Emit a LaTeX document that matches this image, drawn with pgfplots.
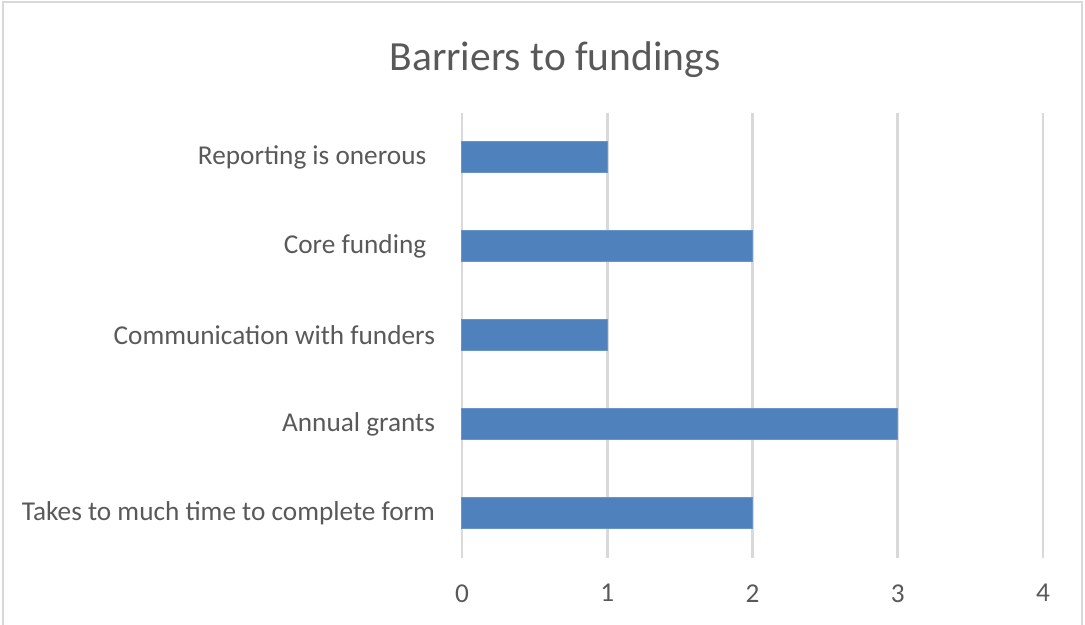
\documentclass[border=0pt]{standalone}
\usepackage{pgfplots}
\pgfplotsset{compat=1.18}
\usepackage{fontspec}
\setmainfont{Carlito}
\definecolor{barblue}{HTML}{4F81BD}
\definecolor{gridgray}{HTML}{D9D9D9}
\definecolor{txtgray}{HTML}{595959}
\begin{document}
\begin{tikzpicture}[x=0.4pt,y=0.4pt]
\useasboundingbox (-462,-67) rectangle (623,558);
\draw[gridgray,line width=1pt] (-459,-70) -- (-459,556) -- (620,556) -- (620,-70);
\begin{axis}[
  at={(0pt,0pt)}, anchor=south west,
  scale only axis,
  width=232.4pt, height=178pt,
  xbar, bar width=12.4pt,
  xmin=0, xmax=4,
  ymin=-0.5, ymax=4.5,
  xtick={0,1,2,3,4},
  ytick={0,1,2,3,4},
  yticklabels={Takes to much time to complete form, Annual grants, Communication with funders, Core funding\hspace*{3.5pt}, Reporting is onerous\hspace*{3.5pt}},
  axis line style={draw=none},
  tick style={draw=none},
  xmajorgrids, grid style={gridgray, line width=1.1pt},
  ticklabel style={font=\fontsize{10.9}{12}\selectfont, text=txtgray},
  xticklabel style={yshift=-7pt},
  yticklabel style={xshift=-3pt},
  /pgf/number format/assume math mode=true,
  clip=false,
]
\addplot[fill=barblue, draw=barblue!85!white, line width=0.4pt] coordinates {(2,0) (3,1) (1,2) (2,3) (1,4)};
\end{axis}
\node[text=txtgray, font=\fontsize{16.6}{19}\selectfont] at (93,498) {Barriers to fundings};
\end{tikzpicture}
\end{document}
